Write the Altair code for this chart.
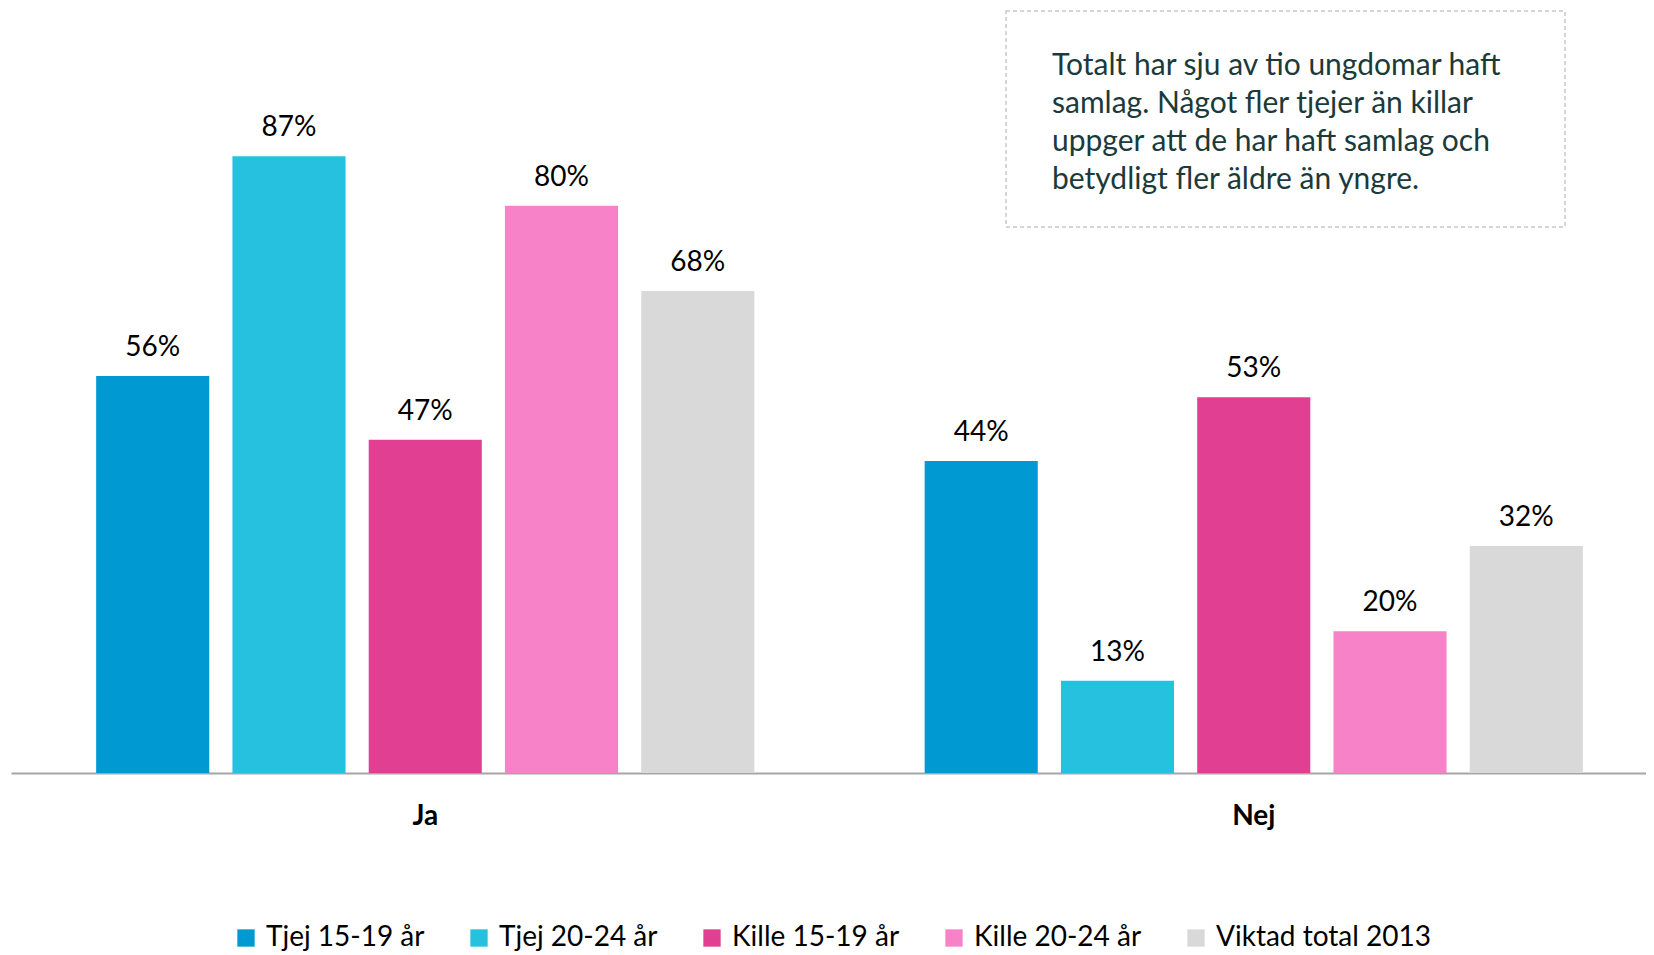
import altair as alt
import pandas as pd

groups = ["Ja", "Nej"]
series = ["Tjej 15-19 år", "Tjej 20-24 år", "Kille 15-19 år", "Kille 20-24 år", "Viktad total 2013"]
ja_values = [0.56, 0.87, 0.47, 0.80, 0.68]
nej_values = [0.44, 0.13, 0.53, 0.20, 0.32]
colors = ["#0099D2", "#26C1DE", "#E13F91", "#F782C7", "#D9D9D9"]
note_lines = [
    "Totalt har sju av tio ungdomar haft",
    "samlag. Något fler tjejer än killar",
    "uppger att de har haft samlag och",
    "betydligt fler äldre än yngre.",
]

rows = []
for g, vals in zip(groups, [ja_values, nej_values]):
    for s, v in zip(series, vals):
        rows.append({"grupp": g, "serie": s, "andel": v})
df = pd.DataFrame(rows)

FONT = "Lato"

x_enc = alt.X("grupp:N", sort=groups, title=None,
              scale=alt.Scale(range=[0, 1657], paddingInner=0, paddingOuter=0),
              axis=alt.Axis(labelFontSize=28, labelFontWeight="bold", labelColor="#000000",
                            labelPadding=29, ticks=False, domainColor="#A6A6A6",
                            domainWidth=2, labelAngle=0, labelFont=FONT))
xo_enc = alt.XOffset("serie:N", sort=series,
                     scale=alt.Scale(paddingInner=0.17, paddingOuter=0.625))
y_enc = alt.Y("andel:Q", scale=alt.Scale(domain=[0, 1]), axis=None)

base = alt.Chart(df)

bars = base.mark_bar().encode(
    x=x_enc, xOffset=xo_enc, y=y_enc,
    color=alt.Color("serie:N", sort=series,
                    scale=alt.Scale(domain=series, range=colors),
                    legend=alt.Legend(title=None, orient="none", legendX=221, legendY=860,
                                      direction="horizontal", columns=5, symbolType="square",
                                      symbolSize=300, symbolStrokeWidth=0, labelFontSize=28,
                                      labelFont=FONT, labelColor="#000000", columnPadding=40,
                                      labelOffset=6, labelLimit=400, padding=0)),
)

labels = base.mark_text(baseline="middle", dy=-28, fontSize=28, font=FONT, color="#000000").encode(
    x=x_enc, xOffset=xo_enc, y=y_enc,
    text=alt.Text("andel:Q", format=".0%"),
)

one = alt.Data(values=[{"k": 1}])

box = alt.Chart(one).mark_rect(fill="white", stroke="#C8C8C8", strokeDash=[4, 3], strokeWidth=1.5).encode(
    x=alt.value(995), x2=alt.value(1554), y=alt.value(-53), y2=alt.value(163),
)

note = alt.Chart(one).mark_text(text=note_lines, align="left", baseline="middle", lineHeight=38,
                                fontSize=30, font=FONT, color="#1B3A3A").encode(
    x=alt.value(1041), y=alt.value(2),
)

chart = alt.layer(bars, labels, box, note).properties(
    width=1635, height=709,
    autosize=alt.AutoSizeParams(type="none"),
    padding={"left": 3, "top": 56, "right": 0, "bottom": 182},
).configure(font=FONT).configure_view(stroke=None)

chart.save("out.html", embed_options={"renderer": "svg", "actions": False})
